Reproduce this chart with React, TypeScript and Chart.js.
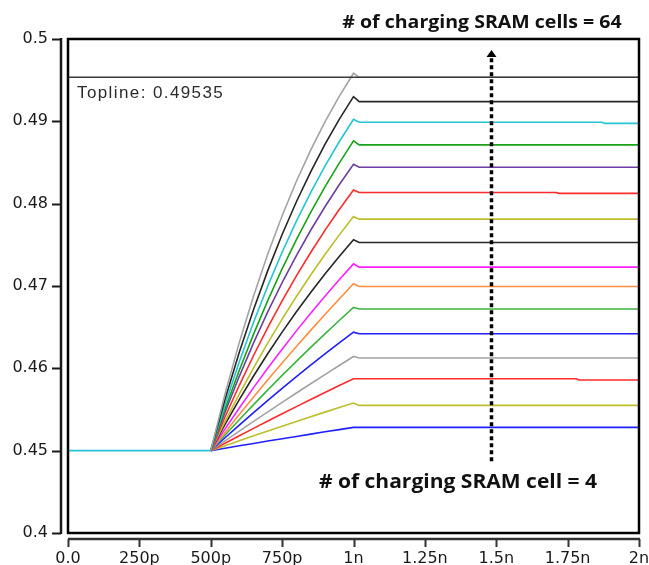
import React, { useEffect, useRef } from "react";
import { Chart, registerables } from "chart.js";

Chart.register(...registerables);

// Time axis in nanoseconds
const riseTimes = [0.5, 0.55, 0.6, 0.65, 0.7, 0.75, 0.8, 0.85, 0.9, 0.95, 1.0];
const settleTime = 1.02;
const endTime = 2.0;
const startLevel = 0.45;
const toplineValue = 0.49535;

const xTickValues = [0, 0.25, 0.5, 0.75, 1, 1.25, 1.5, 1.75, 2];
const xTickLabels = ["0.0", "250p", "500p", "750p", "1n", "1.25n", "1.5n", "1.75n", "2n"];
const yTickValues = [0.44, 0.45, 0.46, 0.47, 0.48, 0.49, 0.5];
const yTickLabels = ["0.4", "0.45", "0.46", "0.47", "0.48", "0.49", "0.5"];

const cellCounts = [4, 8, 12, 16, 20, 24, 28, 32, 36, 40, 44, 48, 52, 56, 60, 64];
const lineColors = [
  "#1f1fff", "#bdbd2a", "#ff2a2a", "#a3a3a3", "#1f1fff", "#3db43d", "#ff8d3f", "#ff1fff",
  "#262626", "#bdbd2a", "#ff2a2a", "#6e3fa3", "#18a318", "#22c6d2", "#262626", "#a3a3a3",
];

// Bit-line voltage while charging (500p .. 1n), one array per cell count
const rise4 = [0.45, 0.4503, 0.45059, 0.45088, 0.45117, 0.45145, 0.45173, 0.45201, 0.45229, 0.45256, 0.45283];
const rise8 = [0.45, 0.45061, 0.4512, 0.4518, 0.45239, 0.45297, 0.45354, 0.45411, 0.45468, 0.45524, 0.45579];
const rise12 = [0.45, 0.45091, 0.45182, 0.45271, 0.4536, 0.45448, 0.45535, 0.45621, 0.45706, 0.45791, 0.45874];
const rise16 = [0.45, 0.4512, 0.45238, 0.45355, 0.45471, 0.45586, 0.457, 0.45813, 0.45924, 0.46035, 0.46144];
const rise20 = [0.45, 0.45157, 0.45311, 0.45463, 0.45611, 0.45756, 0.45898, 0.46038, 0.46175, 0.46309, 0.4644];
const rise24 = [0.45, 0.4519, 0.45376, 0.45559, 0.45738, 0.45914, 0.46085, 0.46254, 0.46419, 0.46581, 0.4674];
const rise28 = [0.45, 0.45221, 0.45438, 0.45651, 0.4586, 0.46064, 0.46264, 0.46461, 0.46653, 0.46842, 0.47027];
const rise32 = [0.45, 0.45264, 0.45519, 0.45766, 0.46004, 0.46233, 0.46455, 0.4667, 0.46876, 0.47076, 0.47269];
const rise36 = [0.45, 0.45318, 0.4562, 0.45907, 0.4618, 0.4644, 0.46687, 0.46922, 0.47146, 0.47359, 0.47561];
const rise40 = [0.45, 0.45353, 0.45688, 0.46006, 0.4631, 0.46598, 0.46873, 0.47134, 0.47382, 0.47618, 0.47843];
const rise44 = [0.45, 0.45409, 0.45794, 0.46156, 0.46498, 0.46819, 0.47122, 0.47407, 0.47676, 0.47929, 0.48167];
const rise48 = [0.45, 0.45467, 0.45903, 0.46309, 0.46688, 0.47041, 0.4737, 0.47677, 0.47963, 0.4823, 0.48479];
const rise52 = [0.45, 0.45505, 0.45976, 0.46416, 0.46825, 0.47207, 0.47563, 0.47895, 0.48205, 0.48493, 0.48762];
const rise56 = [0.45, 0.45562, 0.46081, 0.4656, 0.47002, 0.4741, 0.47787, 0.48134, 0.48455, 0.48752, 0.49025];
const rise60 = [0.45, 0.45624, 0.46194, 0.46714, 0.4719, 0.47626, 0.48023, 0.48387, 0.48719, 0.49023, 0.493];
const rise64 = [0.45, 0.4569, 0.46315, 0.46879, 0.47391, 0.47854, 0.48272, 0.48651, 0.48993, 0.49304, 0.49584];

const riseSeries = [rise4, rise8, rise12, rise16, rise20, rise24, rise28, rise32, rise36, rise40, rise44, rise48, rise52, rise56, rise60, rise64];

// Settled level after the word line closes
const plateaus = [0.45283, 0.4555, 0.45874, 0.46125, 0.4642, 0.46721, 0.46994, 0.47229, 0.47528, 0.47812, 0.48135, 0.48443, 0.48714, 0.48989, 0.49239, 0.49535];
// Late small steps (time, new level); null where the level holds
const dropTimes = [null, null, 1.78, null, null, null, null, null, null, null, 1.71, null, null, 1.87, null, null];
const dropLevels = [null, null, 0.45858, null, null, null, null, null, null, null, 0.48125, null, null, 0.48975, null, null];

const TICK_FONT = { family: "'DejaVu Sans', sans-serif", size: 16 };

function buildPoints(i: number) {
  const pts = riseTimes.map((t, j) => ({ x: t, y: riseSeries[i][j] }));
  pts.push({ x: settleTime, y: plateaus[i] });
  const dt = dropTimes[i];
  const dv = dropLevels[i];
  if (dt !== null && dv !== null) {
    pts.push({ x: dt, y: plateaus[i] });
    pts.push({ x: dt + 0.01, y: dv });
    pts.push({ x: endTime, y: dv });
  } else {
    pts.push({ x: endTime, y: plateaus[i] });
  }
  return pts;
}

// Bold caption, slightly widened, centred on cx
function wideText(ctx: CanvasRenderingContext2D, text: string, cx: number, baseline: number, font: string, stretch: number) {
  ctx.save();
  ctx.font = font;
  ctx.textAlign = "center";
  ctx.translate(cx, baseline);
  ctx.scale(stretch, 1);
  ctx.fillText(text, 0, 0);
  ctx.restore();
}

const framePlugin = {
  id: "frame",
  afterDraw(chart: any) {
    const { ctx, chartArea: a, scales } = chart;
    const xs = scales.x;
    const ys = scales.y;
    ctx.save();

    // plot box
    ctx.strokeStyle = "#000";
    ctx.lineWidth = 2.5;
    ctx.strokeRect(a.left, a.top, a.right - a.left, a.bottom - a.top);

    // detached y axis with ticks
    const axX = a.left - 7;
    ctx.strokeStyle = "#1a1a1a";
    ctx.lineWidth = 2.5;
    ctx.beginPath();
    ctx.moveTo(axX, a.top - 1);
    ctx.lineTo(axX, a.bottom + 1);
    ctx.stroke();
    ctx.lineWidth = 2;
    ctx.beginPath();
    ys.ticks.forEach((t: any) => {
      const py = Math.round(ys.getPixelForValue(t.value)) + 0.5;
      ctx.moveTo(axX, py);
      ctx.lineTo(axX - 9, py);
    });
    ctx.stroke();

    // detached x axis with ticks
    const axY = a.bottom + 6;
    ctx.strokeStyle = "#333";
    ctx.lineWidth = 2.5;
    ctx.beginPath();
    ctx.moveTo(a.left, axY);
    ctx.lineTo(a.right + 1, axY);
    ctx.stroke();
    ctx.lineWidth = 2;
    ctx.beginPath();
    xs.ticks.forEach((t: any) => {
      const px = Math.round(xs.getPixelForValue(t.value)) + 0.5;
      ctx.moveTo(px, axY);
      ctx.lineTo(px, axY + 8);
    });
    ctx.stroke();

    // topline caption
    ctx.fillStyle = "#2b2b2b";
    ctx.font = "17px 'Liberation Sans', Arial, sans-serif";
    (ctx as any).letterSpacing = "1.4px";
    ctx.textAlign = "left";
    ctx.textBaseline = "alphabetic";
    ctx.fillText("Topline: 0.49535", a.left + 9, a.top + 59);
    (ctx as any).letterSpacing = "0px";

    // dotted arrow pointing toward larger cell counts
    const arrowX = Math.round(xs.getPixelForValue(1.48)) + 0.5;
    const arrowBottom = ys.getPixelForValue(0.4487);
    const arrowTip = a.top + 11;
    ctx.strokeStyle = "#000";
    ctx.lineWidth = 3.5;
    ctx.setLineDash([4, 3]);
    ctx.beginPath();
    ctx.moveTo(arrowX, arrowBottom);
    ctx.lineTo(arrowX, arrowTip + 8);
    ctx.stroke();
    ctx.setLineDash([]);
    ctx.fillStyle = "#000";
    ctx.beginPath();
    ctx.moveTo(arrowX, arrowTip);
    ctx.lineTo(arrowX - 5, arrowTip + 7);
    ctx.lineTo(arrowX + 5, arrowTip + 7);
    ctx.closePath();
    ctx.fill();

    // cell-count annotations
    ctx.fillStyle = "#111";
    wideText(ctx, "# of charging SRAM cells = " + cellCounts[cellCounts.length - 1], 482, 28, "bold 18px 'Open Sans', Lato, sans-serif", 1.085);
    wideText(ctx, "# of charging SRAM cell = " + cellCounts[0], 458, 488, "bold 19.5px 'Open Sans', Lato, sans-serif", 1.078);

    ctx.restore();
  },
};

export default function App() {
  const canvasRef = useRef<HTMLCanvasElement | null>(null);

  useEffect(() => {
    if (!canvasRef.current) return;

    const curveSets = cellCounts.map((n, i) => ({
      label: n + " cells",
      data: buildPoints(i),
      borderColor: lineColors[i],
      borderWidth: 1.6,
      pointRadius: 0,
      fill: false,
      tension: 0,
    }));
    curveSets.reverse();

    const datasets = [
      {
        label: "precharge",
        data: [
          { x: 0, y: startLevel },
          { x: 0.5, y: startLevel },
        ],
        borderColor: "#22c6d2",
        borderWidth: 1.8,
        pointRadius: 0,
        fill: false,
        tension: 0,
      },
      {
        label: "Topline",
        data: [
          { x: 0, y: toplineValue },
          { x: endTime, y: toplineValue },
        ],
        borderColor: "#3a3a3a",
        borderWidth: 1.5,
        pointRadius: 0,
        fill: false,
        tension: 0,
      },
      ...curveSets,
    ];

    const chart = new Chart(canvasRef.current, {
      type: "line",
      data: { datasets },
      plugins: [framePlugin],
      options: {
        animation: false,
        responsive: false,
        devicePixelRatio: 1,
        layout: { padding: { top: 39, right: 10, left: 0, bottom: 0 } },
        plugins: { legend: { display: false }, tooltip: { enabled: false } },
        scales: {
          x: {
            type: "linear",
            min: 0,
            max: 2,
            afterFit: (s: any) => {
              s.height = 32;
              s.paddingLeft = 0;
              s.paddingRight = 0;
            },
            afterBuildTicks: (s: any) => {
              s.ticks = xTickValues.map((v) => ({ value: v }));
            },
            grid: { display: false, drawTicks: false },
            border: { display: false },
            ticks: {
              font: TICK_FONT,
              color: "#1a1a1a",
              padding: 16,
              maxRotation: 0,
              autoSkip: false,
              callback: (v: any) => {
                const idx = xTickValues.findIndex((t) => Math.abs(t - Number(v)) < 1e-6);
                return idx >= 0 ? xTickLabels[idx] : "";
              },
            },
          },
          y: {
            type: "linear",
            min: 0.44,
            max: 0.5,
            afterFit: (s: any) => {
              s.width = 68;
              s.paddingTop = 0;
              s.paddingBottom = 0;
            },
            afterBuildTicks: (s: any) => {
              s.ticks = yTickValues.map((v) => ({ value: v }));
            },
            grid: { display: false, drawTicks: false },
            border: { display: false },
            ticks: {
              font: TICK_FONT,
              color: "#1a1a1a",
              padding: 20,
              autoSkip: false,
              callback: (v: any, i: number) => yTickLabels[i],
            },
          },
        },
      },
    });

    return () => chart.destroy();
  }, []);

  return (
    <div style={{ position: "absolute", left: 0, top: 0, width: 649, height: 565, background: "#fff" }}>
      <canvas ref={canvasRef} width={649} height={565} style={{ width: 649, height: 565 }} />
    </div>
  );
}
